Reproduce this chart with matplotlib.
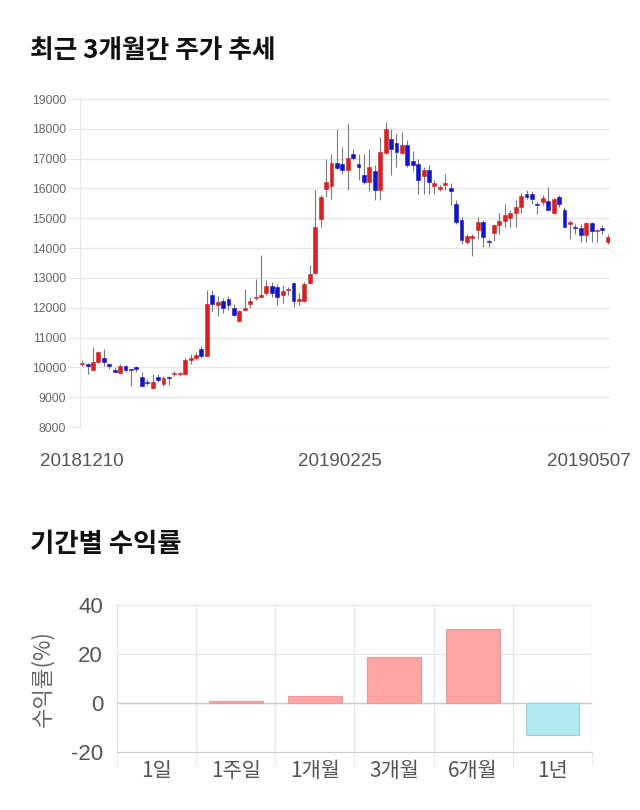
import numpy as np
import matplotlib
matplotlib.use("Agg")
import matplotlib.pyplot as plt

plt.rcParams['font.family'] = ['Noto Sans CJK KR', 'DejaVu Sans']

# daily candles, 2018-12-10 .. 2019-05-07
opens = [10100, 10100, 9920, 10190, 10310, 10110, 9910, 9800, 10060, 9950,
         10010, 9670, 9490, 9300, 9690, 9430, 9690, 9770, 9780, 9780,
         10250, 10300, 10610, 10390, 12440, 12090, 12240, 12300, 11980, 11540,
         11940, 12140, 12320, 12360, 12480, 12730, 12680, 12430, 12580, 12820,
         12240, 12240, 12840, 13170, 14980, 15970, 16070, 16850, 16830, 16610,
         17160, 16830, 16460, 16200, 16570, 15960, 17180, 17660, 17520, 17180,
         17460, 16920, 16830, 16410, 16630, 16070, 15990, 16110, 16030, 15470,
         14930, 14210, 14330, 14590, 14870, 14220, 14500, 14760, 14900, 15000,
         15170, 15380, 15830, 15830, 15450, 15530, 15580, 15170, 15720, 15270,
         14810, 14720, 14680, 14450, 14840, 14560, 14680, 14190]
closes = [10150, 10060, 10170, 10500, 10190, 10060, 9850, 10060, 9910, 9920,
          9930, 9370, 9470, 9500, 9590, 9630, 9640, 9790, 9800, 10250,
          10310, 10420, 10390, 12140, 12140, 12190, 11980, 12090, 11740, 11890,
          12000, 12230, 12340, 12420, 12730, 12480, 12350, 12570, 12600, 12240,
          12280, 12790, 13120, 14710, 15710, 16220, 16850, 16680, 16610, 17030,
          17020, 16720, 16200, 16720, 15960, 17220, 17980, 17310, 17220, 17460,
          16770, 16800, 16270, 16630, 16210, 16180, 16040, 16170, 15920, 14870,
          14270, 14410, 14410, 14870, 14360, 14200, 14760, 14900, 15120, 15170,
          15380, 15740, 15720, 15630, 15430, 15690, 15290, 15630, 15470, 14720,
          14870, 14670, 14450, 14840, 14560, 14590, 14620, 14360]
highs = [10250, 10150, 10670, 10550, 10610, 10150, 10000, 10110, 10080, 9960,
         10050, 9860, 9610, 9780, 9780, 9700, 9720, 9870, 9860, 10330,
         10440, 10500, 10700, 12610, 12610, 12390, 12330, 12390, 12110, 11940,
         12640, 12370, 12980, 13760, 12930, 12870, 12800, 12760, 12700, 12870,
         12480, 12870, 13430, 15960, 15770, 17000, 17160, 17980, 17390, 18190,
         17330, 17160, 17160, 17330, 16770, 17720, 18220, 18000, 17830, 17890,
         17610, 17250, 17000, 16720, 16770, 16270, 16100, 16500, 16170, 15600,
         15040, 14470, 14470, 15040, 14930, 14300, 14810, 15170, 15470, 15290,
         15600, 15850, 15940, 15920, 15550, 15770, 16060, 15690, 15770, 15380,
         14930, 14810, 14810, 14870, 14870, 14640, 14760, 14470]
lows = [10050, 9780, 9900, 10150, 10030, 9950, 9830, 9780, 9830, 9390,
        9850, 9340, 9420, 9280, 9500, 9390, 9410, 9700, 9700, 9750,
        10110, 10250, 10330, 10370, 11890, 11720, 11830, 11930, 11720, 11520,
        11890, 11980, 12250, 12310, 12430, 12370, 12090, 12150, 12430, 12040,
        12090, 12200, 12790, 13130, 14710, 15710, 15660, 16660, 16500, 15940,
        16940, 16270, 16160, 15930, 15600, 15600, 17160, 16440, 16720, 17160,
        16720, 16600, 15820, 15820, 15820, 15820, 15900, 15950, 15430, 14810,
        14140, 14140, 13740, 14300, 14020, 14020, 14250, 14470, 14720, 14700,
        14700, 15170, 15630, 15490, 15150, 15430, 15270, 15150, 15380, 14700,
        14300, 14470, 14190, 14190, 14190, 14190, 14470, 14140]
date_ticks = [0, 47.6, 93.5]
date_labels = ["20181210", "20190225", "20190507"]
price_ticks = list(range(8000, 19001, 1000))

# period returns
periods = ["1일", "1주일", "1개월", "3개월", "6개월", "1년"]
returns = [0.0, 0.9, 2.7, 18.6, 30.1, -12.9]

fig = plt.figure(figsize=(6.4, 8.1), dpi=100)
W, H = 640, 810

def box(l, t, r, b):
    return [l / W, 1 - b / H, (r - l) / W, (b - t) / H]

grid_c = "#e6e6e6"
num_font = ["Liberation Sans", "DejaVu Sans"]

# --- candles ---
fig.text(30 / W, 1 - 50 / H, "최근 3개월간 주가 추세", fontsize=18.5,
         fontweight="bold", va="center", ha="left", color="#111111")
ax = fig.add_axes(box(80, 99, 610, 427))
o = np.array(opens); c = np.array(closes)
h = np.array(highs); lo = np.array(lows)
x = np.arange(len(o))
up = c >= o
cols = np.where(up, "#d42323", "#1515c8")
ax.vlines(x, lo, h, color="#7a7a7a", linewidth=0.8, zorder=2)
body = np.maximum(np.abs(c - o), 40)
ax.bar(x, body, bottom=np.minimum(o, c), width=0.72, color=cols,
       edgecolor=cols, linewidth=0.4, zorder=3)
ax.set_ylim(8000, 19000)
ax.set_xlim(-0.4, len(o) - 0.6)
ax.set_yticks(price_ticks)
ax.set_yticklabels([str(v) for v in price_ticks], fontsize=8.8,
                   color="#666666", family=num_font)
ax.set_xticks(date_ticks)
ax.set_xticklabels(date_labels, fontsize=13.5, color="#555555", family=num_font)
ax.tick_params(axis="y", length=9, color=grid_c, pad=1)
ax.tick_params(axis="x", length=0, pad=19)
ax.grid(axis="y", color=grid_c, linewidth=0.9)
ax.set_axisbelow(True)
for s in ["top", "right", "bottom"]:
    ax.spines[s].set_visible(False)
ax.spines["left"].set_color(grid_c)

# --- returns ---
fig.text(30 / W, 1 - 545 / H, "기간별 수익률", fontsize=19,
         fontweight="bold", va="center", ha="left", color="#111111")
ax2 = fig.add_axes(box(117, 605, 592, 752))
bcols = ["#ffa5a5" if v >= 0 else "#b0e9f2" for v in returns]
ecols = ["#e89a9a" if v >= 0 else "#9ccfd8" for v in returns]
lws = [0.8 if v != 0 else 0 for v in returns]
ax2.bar(np.arange(len(periods)), returns, width=0.68, color=bcols,
        edgecolor=ecols, linewidth=lws, zorder=3)
ax2.set_xlim(-0.5, len(periods) - 0.5)
ax2.set_ylim(-20, 40)
ax2.set_yticks([-20, 0, 20, 40])
ax2.set_yticklabels(["-20", "0", "20", "40"], fontsize=16, color="#555555",
                    family=num_font)
ax2.set_xticks(np.arange(len(periods)))
ax2.set_xticklabels(periods, fontsize=15, color="#555555")
ax2.set_xticks(np.arange(len(periods) + 1) - 0.5, minor=True)
ax2.tick_params(axis="x", which="major", length=0, pad=6)
ax2.tick_params(axis="x", which="minor", length=10, color=grid_c)
ax2.tick_params(axis="y", length=0, pad=10)
ax2.grid(axis="x", which="minor", color=grid_c, linewidth=0.9)
ax2.grid(axis="y", color=grid_c, linewidth=0.9)
ax2.axhline(0, color="#cccccc", linewidth=1.0, zorder=2)
ax2.set_axisbelow(True)
for s in ["top", "right", "left"]:
    ax2.spines[s].set_visible(False)
ax2.spines["bottom"].set_color("#cccccc")
ax2.set_ylabel("수익률(%)", fontsize=16, color="#666666", labelpad=12)

fig.savefig("out.png", dpi=100)
